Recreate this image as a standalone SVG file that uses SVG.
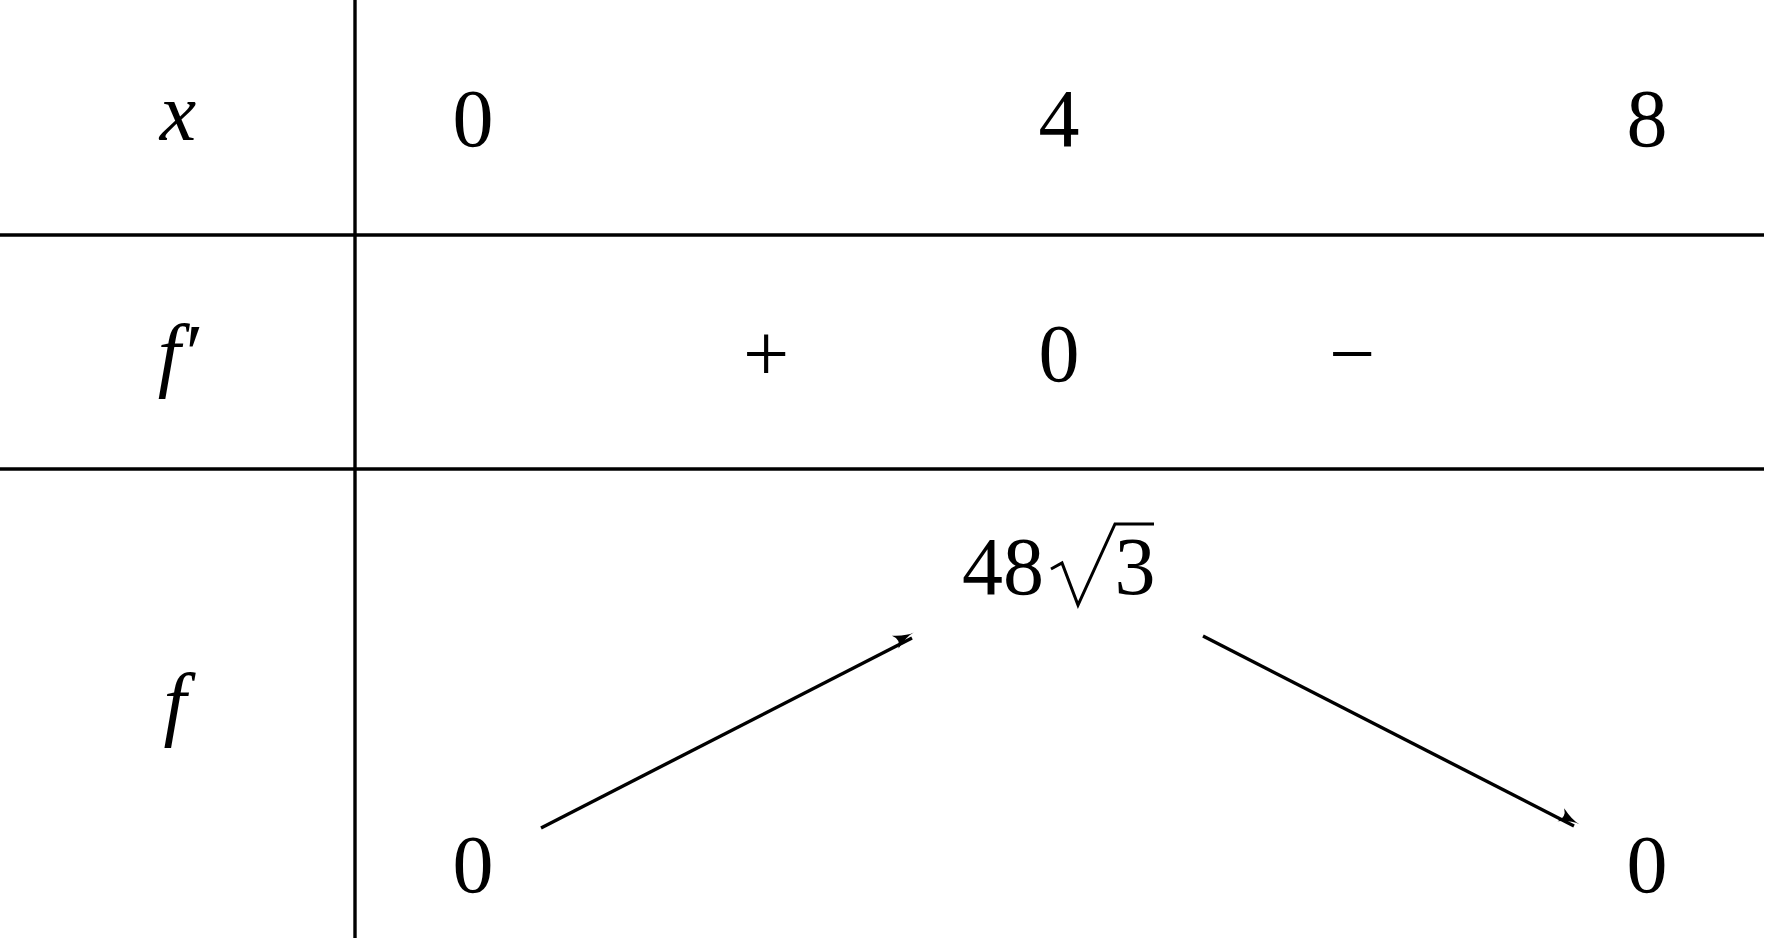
<svg xmlns="http://www.w3.org/2000/svg" width="1766" height="941" viewBox="0 0 1766 941">
<style>
text{font-family:"Liberation Serif","DejaVu Serif",serif;font-size:82px;fill:#000;text-anchor:middle}
.i{font-style:italic}
.l{stroke:#000;stroke-width:3.4;fill:none}
</style>
<defs><marker id="a" viewBox="0 0 10 10" refX="9" refY="5" markerWidth="8" markerHeight="8" markerUnits="userSpaceOnUse" orient="auto" style="overflow:visible"><path d="M-12,-9 Q4,0 14,0 Q4,0 -12,9 Q-4,0 -12,-9Z" fill="#000"/></marker></defs>
<rect width="1766" height="941" fill="#fff"/>
<g id="grid">
<line class="l" x1="355" y1="0" x2="355" y2="938"/>
<line class="l" x1="0" y1="235" x2="1764" y2="235"/>
<line class="l" x1="0" y1="469" x2="1764" y2="469"/>
</g>
<g id="row-x"><text class="i" x="178" y="140">x</text><text x="473" y="146">0</text><text x="1059" y="146">4</text><text x="1647" y="146">8</text></g>
<g id="row-fp"><text class="i" x="178" y="381">f′</text><text x="766" y="381">+</text><text x="1059" y="381">0</text><text x="1352" y="381">−</text></g>
<g id="row-f"><text class="i" x="175" y="730">f</text>
<text x="1003" y="594">48</text>
<path d="M1051,569 L1062,563 L1078,605 L1115,524 L1154,524" stroke="#000" stroke-width="3" fill="none"/>
<text x="1135" y="594">3</text>
<text x="473" y="892">0</text><text x="1647" y="892">0</text></g>
<g id="connectors">
<line class="l" x1="541" y1="828" x2="912" y2="638" marker-end="url(#a)"/>
<line class="l" x1="1203" y1="636" x2="1574" y2="826" marker-end="url(#a)"/>
</g>
</svg>
